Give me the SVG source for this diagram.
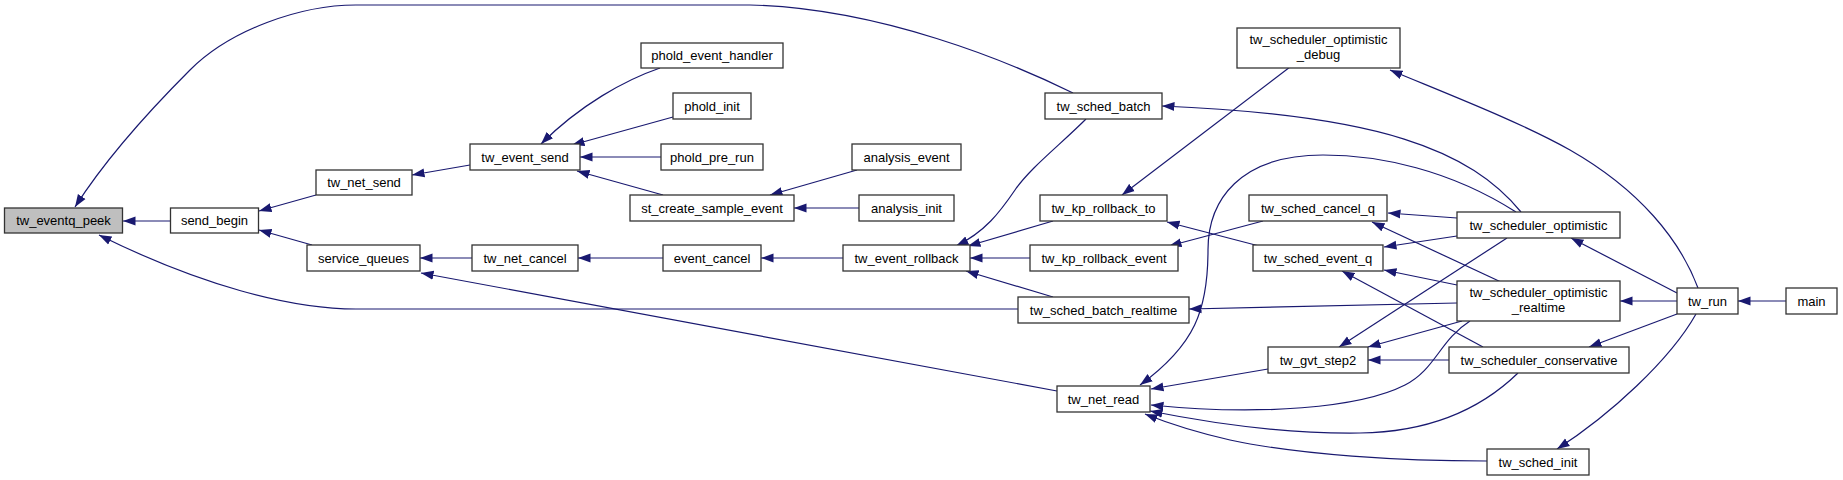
<svg xmlns="http://www.w3.org/2000/svg" width="1843" height="480" viewBox="0 0 1843 480">
<style>
.n rect{fill:#ffffff;stroke:#333333;stroke-width:1.3}
.n.h rect{fill:#bfbfbf}
.n text{font-family:"Liberation Sans",Arial,sans-serif;font-size:13px;fill:#000;text-anchor:middle}
.e path{fill:none;stroke:#191970;stroke-width:1.2;marker-end:url(#a)}
</style>
<defs>
<marker id="a" markerUnits="userSpaceOnUse" markerWidth="13" markerHeight="10" refX="12.5" refY="5" orient="auto">
<path d="M0,0.5 L12.5,5 L0,9.5 z" fill="#191970" stroke="none"/>
</marker>
</defs>
<rect width="1843" height="480" fill="#ffffff"/>
<g id="edges" class="e">
<path d="M171,221 L123,221"/>
<path d="M1073,93 C1010,62 880,8 750,5 L356,5 C300,5 230,30 190,70 C150,110 105,160 75,207"/>
<path d="M1018,309 L356,309 C290,309 200,285 99,235"/>
<path d="M316,195 L259,211"/>
<path d="M312,245 L259,230"/>
<path d="M470,165 L412,175"/>
<path d="M472,258 L420,258"/>
<path d="M1057,391 L421,273"/>
<path d="M660,68 C625,80 580,105 541,144"/>
<path d="M673,117 L572,145"/>
<path d="M661,157 L580,157"/>
<path d="M663,195 L577,171"/>
<path d="M857,170 L770,195"/>
<path d="M859,208 L794,208"/>
<path d="M663,258 L578,258"/>
<path d="M843,258 L761,258"/>
<path d="M1086,119 C1060,145 1030,168 1015,190 C1000,212 985,232 956,246"/>
<path d="M1053,221 L968,246"/>
<path d="M1030,258 L970,258"/>
<path d="M1053,297 L966,271"/>
<path d="M1290,67 L1122,195"/>
<path d="M1263,247 L1167,222"/>
<path d="M1263,221 L1169,246"/>
<path d="M1521,212 C1470,150 1380,115 1162,106"/>
<path d="M1457,303 L1189,309"/>
<path d="M1457,218 L1388,213"/>
<path d="M1501,282 L1372,222"/>
<path d="M1457,236 L1384,247"/>
<path d="M1457,285 L1384,270"/>
<path d="M1483,347 L1342,271"/>
<path d="M1507,238 L1339,347"/>
<path d="M1462,321 L1368,347"/>
<path d="M1449,360 L1368,360"/>
<path d="M1268,369 L1151,389"/>
<path d="M1516,212 C1450,170 1380,155 1323,155 C1240,155 1208,200 1208,250 C1208,310 1195,345 1140,385"/>
<path d="M1470,321 C1440,340 1435,370 1405,385 C1360,408 1260,416 1151,405"/>
<path d="M1518,373 C1480,410 1430,432 1360,433 C1290,434 1220,425 1150,411"/>
<path d="M1487,461 C1400,461 1300,455 1230,440 C1195,432 1170,424 1145,414"/>
<path d="M1698,288 C1680,240 1640,190 1570,150 C1520,122 1450,95 1390,70"/>
<path d="M1677,293 L1571,238"/>
<path d="M1677,301 L1620,301"/>
<path d="M1677,314 L1589,347"/>
<path d="M1696,314 C1670,360 1610,415 1557,449"/>
<path d="M1786,301 L1738,301"/>
</g>
<g id="tw_eventq_peek" class="n h"><rect x="4.5" y="208" width="118" height="25"/><text x="63.5" y="225">tw_eventq_peek</text></g>
<g id="send_begin" class="n"><rect x="170.5" y="208" width="88" height="25"/><text x="214.5" y="225">send_begin</text></g>
<g id="tw_net_send" class="n"><rect x="316" y="170" width="96" height="25"/><text x="364" y="187">tw_net_send</text></g>
<g id="service_queues" class="n"><rect x="307" y="245" width="113" height="26"/><text x="363.5" y="262.5">service_queues</text></g>
<g id="tw_event_send" class="n"><rect x="470" y="144" width="110" height="26"/><text x="525" y="161.5">tw_event_send</text></g>
<g id="tw_net_cancel" class="n"><rect x="472" y="245" width="106" height="26"/><text x="525" y="262.5">tw_net_cancel</text></g>
<g id="phold_event_handler" class="n"><rect x="641" y="43" width="142" height="25"/><text x="712" y="60">phold_event_handler</text></g>
<g id="phold_init" class="n"><rect x="673" y="93" width="78" height="26"/><text x="712" y="110.5">phold_init</text></g>
<g id="phold_pre_run" class="n"><rect x="661" y="144" width="102" height="26"/><text x="712" y="161.5">phold_pre_run</text></g>
<g id="st_create_sample_event" class="n"><rect x="630" y="195" width="164" height="26"/><text x="712" y="212.5">st_create_sample_event</text></g>
<g id="analysis_event" class="n"><rect x="852" y="144" width="109" height="26"/><text x="906.5" y="161.5">analysis_event</text></g>
<g id="analysis_init" class="n"><rect x="859" y="195" width="95" height="26"/><text x="906.5" y="212.5">analysis_init</text></g>
<g id="event_cancel" class="n"><rect x="663" y="245" width="98" height="26"/><text x="712" y="262.5">event_cancel</text></g>
<g id="tw_event_rollback" class="n"><rect x="843" y="245" width="127" height="26"/><text x="906.5" y="262.5">tw_event_rollback</text></g>
<g id="tw_sched_batch" class="n"><rect x="1045" y="93" width="117" height="26"/><text x="1103.5" y="110.5">tw_sched_batch</text></g>
<g id="tw_kp_rollback_to" class="n"><rect x="1040" y="195" width="127" height="26"/><text x="1103.5" y="212.5">tw_kp_rollback_to</text></g>
<g id="tw_kp_rollback_event" class="n"><rect x="1030" y="245" width="148" height="26"/><text x="1104" y="262.5">tw_kp_rollback_event</text></g>
<g id="tw_sched_batch_realtime" class="n"><rect x="1018" y="297" width="171" height="26"/><text x="1103.5" y="314.5">tw_sched_batch_realtime</text></g>
<g id="tw_net_read" class="n"><rect x="1057" y="386" width="93" height="26"/><text x="1103.5" y="403.5">tw_net_read</text></g>
<g id="tw_scheduler_optimistic_debug" class="n"><rect x="1237" y="28" width="163" height="40"/><text x="1318.5" y="44">tw_scheduler_optimistic</text><text x="1318.5" y="59">_debug</text></g>
<g id="tw_sched_cancel_q" class="n"><rect x="1249" y="195" width="138" height="26"/><text x="1318" y="212.5">tw_sched_cancel_q</text></g>
<g id="tw_sched_event_q" class="n"><rect x="1253" y="245" width="130" height="26"/><text x="1318" y="262.5">tw_sched_event_q</text></g>
<g id="tw_gvt_step2" class="n"><rect x="1268" y="347" width="100" height="26"/><text x="1318" y="364.5">tw_gvt_step2</text></g>
<g id="tw_scheduler_optimistic" class="n"><rect x="1457" y="212" width="163" height="26"/><text x="1538.5" y="229.5">tw_scheduler_optimistic</text></g>
<g id="tw_scheduler_optimistic_realtime" class="n"><rect x="1457" y="281" width="163" height="40"/><text x="1538.5" y="297">tw_scheduler_optimistic</text><text x="1538.5" y="312">_realtime</text></g>
<g id="tw_scheduler_conservative" class="n"><rect x="1449" y="347" width="180" height="26"/><text x="1539" y="364.5">tw_scheduler_conservative</text></g>
<g id="tw_sched_init" class="n"><rect x="1487" y="449" width="102" height="26"/><text x="1538" y="466.5">tw_sched_init</text></g>
<g id="tw_run" class="n"><rect x="1677" y="288" width="61" height="26"/><text x="1707.5" y="305.5">tw_run</text></g>
<g id="main" class="n"><rect x="1786" y="288" width="51" height="26"/><text x="1811.5" y="305.5">main</text></g>
</svg>
